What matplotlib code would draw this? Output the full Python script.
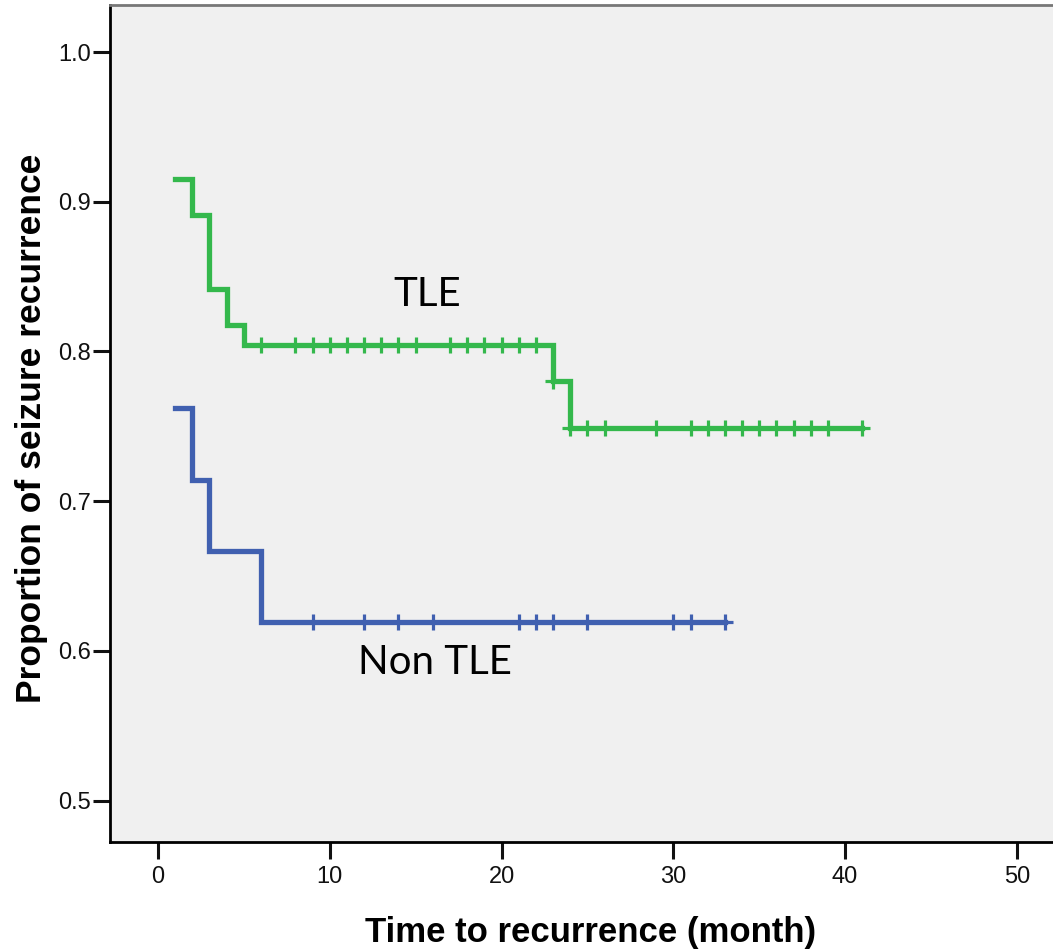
import matplotlib
matplotlib.use("Agg")
import matplotlib.pyplot as plt

# Kaplan-Meier style step data
tle_times = [1, 2, 3, 4, 5, 23, 24, 41]
tle_vals = [0.915, 0.891, 0.842, 0.8175, 0.804, 0.780, 0.749, 0.749]
tle_cens_t = [6, 8, 9, 10, 11, 12, 13, 14, 15, 17, 18, 19, 20, 21, 22,
              23, 24, 25, 26, 29, 31, 32, 33, 34, 35, 36, 37, 38, 39, 41]
tle_cens_v = [0.804] * 15 + [0.780] + [0.749] * 14

non_times = [1, 2, 3, 6, 33]
non_vals = [0.762, 0.714, 0.667, 0.619, 0.619]
non_cens_t = [9, 12, 14, 16, 21, 22, 23, 25, 30, 31, 33]
non_cens_v = [0.619] * 11

xticks = [0, 10, 20, 30, 40, 50]
yticks = [0.5, 0.6, 0.7, 0.8, 0.9, 1.0]
ytick_labels = ["0.5", "0.6", "0.7", "0.8", "0.9", "1.0"]

green = "#34b84c"
blue = "#4060b0"

fig = plt.figure(figsize=(10.53, 9.51), dpi=100)
ax = fig.add_axes([110 / 1053, (951 - 842) / 951, (1053 - 110) / 1053, (842 - 5) / 951])
ax.set_facecolor("#f0f0f0")

ax.step(tle_times, tle_vals, where="post", color=green, lw=3.8, solid_joinstyle="miter", zorder=3)
ax.plot(tle_cens_t, tle_cens_v, ls="none", marker="+", ms=12, mew=2.3, color=green, zorder=4)
ax.step(non_times, non_vals, where="post", color=blue, lw=3.8, solid_joinstyle="miter", zorder=3)
ax.plot(non_cens_t, non_cens_v, ls="none", marker="+", ms=12, mew=2.3, color=blue, zorder=4)

ax.text(15.66, 0.8377, "TLE", fontsize=29, family="Lato", ha="center", va="center", color="black")
ax.text(16.1, 0.592, "Non TLE", fontsize=29, family="Lato", ha="center", va="center", color="black")

ax.set_xlim(-2.79, 52.1)
ax.set_ylim(0.4723, 1.0314)
ax.set_xticks(xticks)
ax.set_yticks(yticks)
ax.set_yticklabels(ytick_labels)

for lab in ax.get_xticklabels() + ax.get_yticklabels():
    lab.set_family(["Liberation Sans", "DejaVu Sans"])
    lab.set_fontsize(17)
    lab.set_color("#111111")
ax.tick_params(axis="both", length=12.5, width=2.2, color="#111111", direction="out")
ax.tick_params(axis="y", pad=1.5)
ax.tick_params(axis="x", pad=5)

ax.spines["right"].set_visible(False)
ax.spines["top"].set_color("#777777")
ax.spines["top"].set_linewidth(2)
ax.spines["left"].set_linewidth(2)
ax.spines["bottom"].set_linewidth(2)

ax.set_xlabel("Time to recurrence (month)", fontsize=25, fontweight="bold",
              family=["Liberation Sans", "DejaVu Sans"])
ax.set_ylabel("Proportion of seizure recurrence", fontsize=25.5, fontweight="bold",
              family=["Liberation Sans", "DejaVu Sans"])
ax.xaxis.set_label_coords(0.510, -0.088)
ax.yaxis.set_label_coords(-0.066, 0.494)

fig.savefig("out.png", dpi=100, facecolor="white")
